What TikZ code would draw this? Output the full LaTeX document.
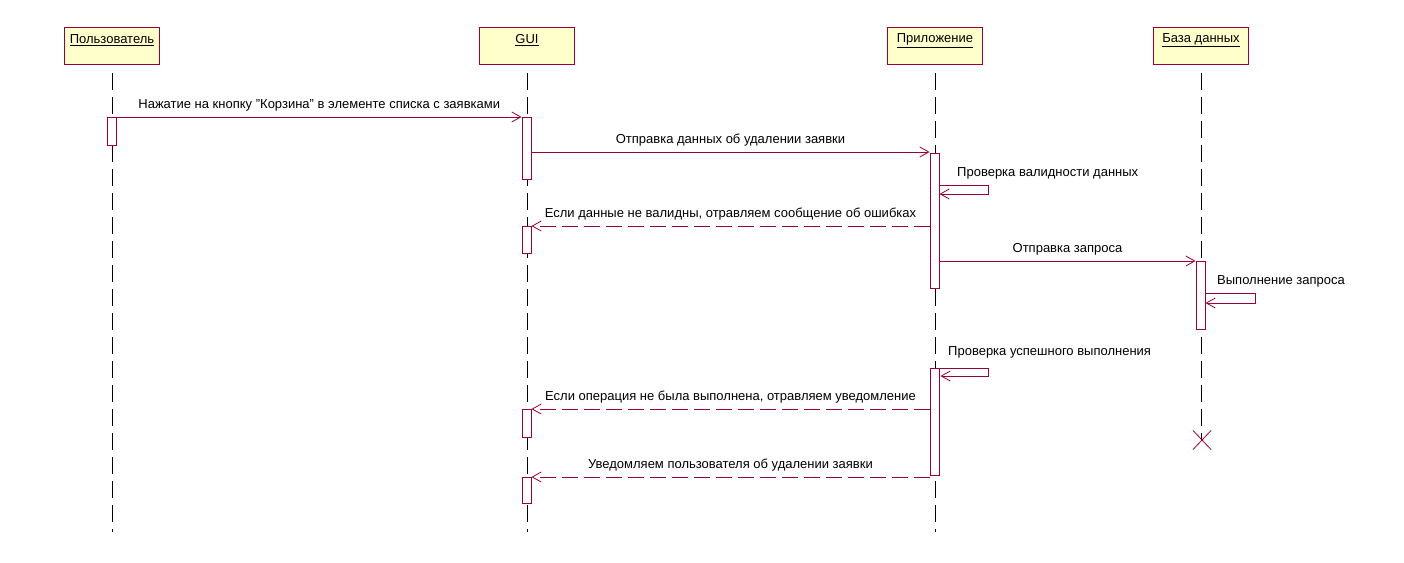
\documentclass[tikz,border=0pt]{standalone}
\usepackage{fontspec}
\setmainfont{Liberation Sans}
\usetikzlibrary{arrows.meta}
\definecolor{umlred}{HTML}{990033}
\definecolor{umlfill}{HTML}{FFFFCC}
\definecolor{umltext}{HTML}{000000}
\tikzset{
  actor/.style={draw=umlred, fill=umlfill, line width=1pt, minimum width=95pt, minimum height=37pt, inner sep=0pt, anchor=north west},
  actlabel/.style={font=\fontsize{13}{15}\selectfont, text=umltext},
  lifeline/.style={draw=black, line width=0.8pt, dash pattern=on 17pt off 7pt},
  act/.style={draw=umlred, fill=white, line width=0.9pt, minimum width=9pt, inner sep=0pt, anchor=north},
  msg/.style={draw=umlred, line width=0.9pt, -{Straight Barb[length=9pt,width=10pt,line width=0.8pt]}},
  ret/.style={msg, dash pattern=on 16pt off 6pt},
  lbl/.style={font=\fontsize{13}{15}\selectfont, text=umltext, inner sep=0pt},
}
\begin{document}
\begin{tikzpicture}[x=1pt,y=-1pt]
\useasboundingbox (0,0) rectangle (1404,562);
% actors
\node[actor] (user) at (64,27) {};
\node[actor] (gui) at (479,27) {};
\node[actor] (app) at (887,27) {};
\node[actor] (db) at (1153,27) {};
\node[actlabel] at (112,40.5) {\underline{Пользователь}};
\node[actlabel] at (527,40.5) {\underline{GUI}};
\node[actlabel] at (935,40.5) {\underline{Приложение}};
\node[actlabel] at (1201,40.5) {\underline{База данных}};
% lifelines
\coordinate (uend) at (112,532);
\coordinate (gend) at (527,532);
\coordinate (aend) at (935,532);
\coordinate (dend) at (1201,440);
\draw[lifeline] ([yshift=-8pt]user.south) -- (uend);
\draw[lifeline] ([yshift=-8pt]gui.south) -- (gend);
\draw[lifeline] ([yshift=-8pt]app.south) -- (aend);
\draw[lifeline] ([yshift=-8pt]db.south) -- (dend);
% activations
\node[act, minimum height=28pt] (ua) at (112,117) {};
\node[act, minimum height=62pt] (ga1) at (526.5,117) {};
\node[act, minimum height=27pt] (ga2) at (526.5,226) {};
\node[act, minimum height=28pt] (ga3) at (526.5,409) {};
\node[act, minimum height=26pt] (ga4) at (526.5,477) {};
\node[act, minimum height=135pt] (pa1) at (934.5,153) {};
\node[act, minimum height=107pt] (pa2) at (934.5,368) {};
\node[act, minimum height=68pt] (da) at (1200.5,261) {};
% destruction
\coordinate (x) at (1202,440);
\draw[umlred, line width=0.8pt] ([shift={(-9,-9.5)}]x) -- ([shift={(9,9.5)}]x);
\draw[umlred, line width=0.8pt] ([shift={(9,-9.5)}]x) -- ([shift={(-9,9.5)}]x);
% messages
\draw[msg] (ua.north east) -- node[lbl, above=5pt] {Нажатие на кнопку "Корзина" в элементе списка с заявками} (ga1.north west);
\draw[msg] ([yshift=1pt]ga1.east |- pa1.north) -- node[lbl, above=5pt] {Отправка данных об удалении заявки} ([yshift=1pt]pa1.north west);
\coordinate (s1a) at (988,185);
\coordinate (s1b) at (988,194);
\draw[msg] (pa1.east |- s1a) -- (s1a) -- (s1b) -- (pa1.east |- s1b);
\node[lbl, anchor=west] at (957,173) {Проверка валидности данных};
\draw[ret] (pa1.west |- ga2.north) -- node[lbl, above=5pt] {Если данные не валидны, отравляем сообщение об ошибках} (ga2.north east);
\draw[msg] (pa1.east |- da.north) -- node[lbl, above=5pt] {Отправка запроса} (da.north west);
\coordinate (s2a) at (1255,293);
\coordinate (s2b) at (1255,303);
\draw[msg] (da.east |- s2a) -- (s2a) -- (s2b) -- (da.east |- s2b);
\node[lbl, anchor=west] at (1217,281) {Выполнение запроса};
\coordinate (s3a) at (988,368);
\coordinate (s3b) at (988,376);
\draw[msg] ([xshift=1pt]pa2.east |- s3a) -- (s3a) -- (s3b) -- ([xshift=1pt]pa2.east |- s3b);
\node[lbl, anchor=west] at (948,352) {Проверка успешного выполнения};
\draw[ret] (pa2.west |- ga3.north) -- node[lbl, above=5pt] {Если операция не была выполнена, отравляем уведомление} (ga3.north east);
\draw[ret] (pa2.west |- ga4.north) -- node[lbl, above=5pt] {Уведомляем пользователя об удалении заявки} (ga4.north east);
\end{tikzpicture}
\end{document}
